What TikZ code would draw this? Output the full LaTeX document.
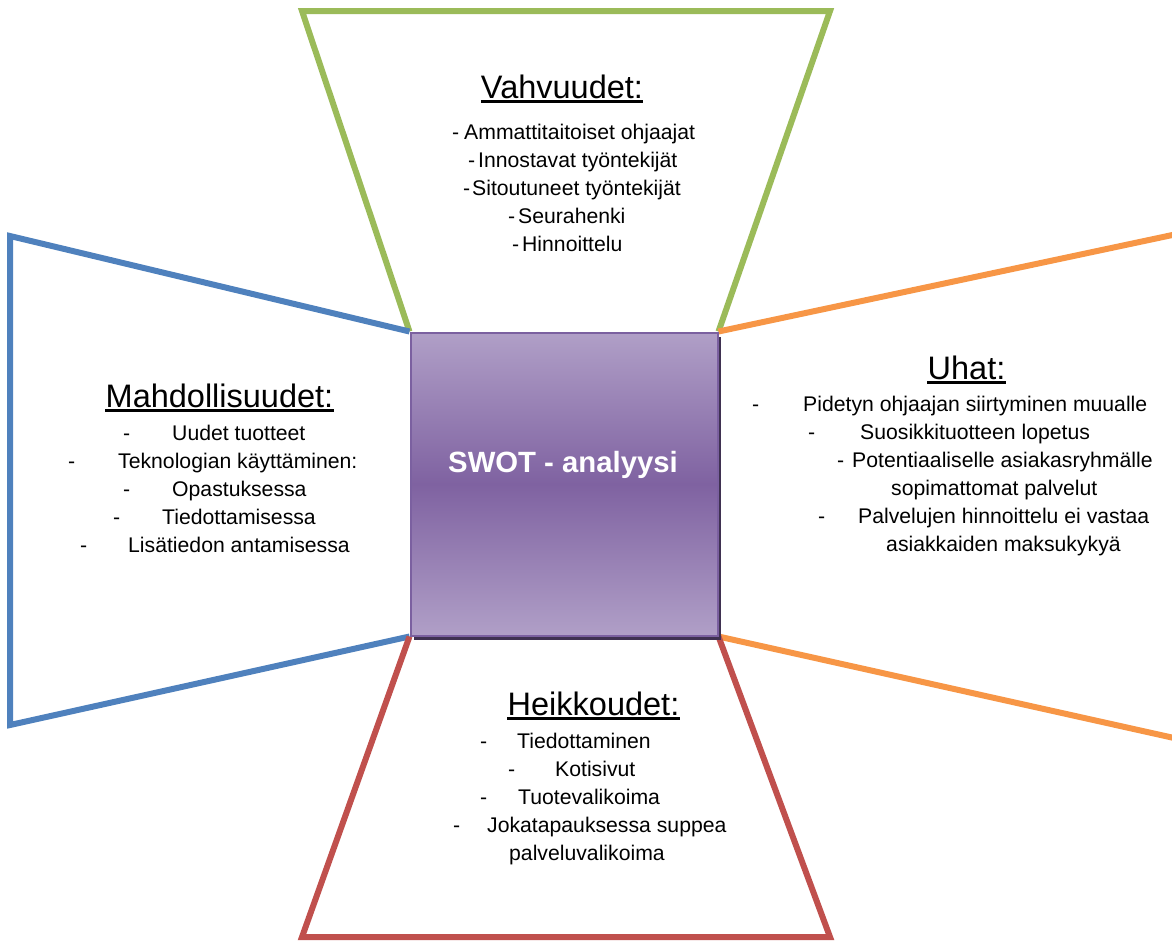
\documentclass[tikz,border=0pt]{standalone}
\usepackage{fontspec}
\setmainfont{Liberation Sans}
\usetikzlibrary{backgrounds,shadows}

\definecolor{vgreen}{HTML}{9BBB59}
\definecolor{mblue}{HTML}{4F81BD}
\definecolor{uorange}{HTML}{F79646}
\definecolor{hred}{HTML}{C0504D}
\definecolor{boxlight}{HTML}{B09FC7}
\definecolor{boxdark}{HTML}{7F62A1}
\definecolor{boxedge}{HTML}{7B60A0}
\definecolor{boxshadow}{HTML}{3F3151}

% light - dark - light band across the centre square
\pgfdeclareverticalshading{swotfill}{100bp}{color(0bp)=(boxlight); color(25bp)=(boxlight); color(50bp)=(boxdark); color(75bp)=(boxlight); color(100bp)=(boxlight)}

% a list entry: a dash, a fixed gap, then the text
\newcommand\dashitem[2]{\makebox[#1pt][l]{-}#2}

\tikzset{
  side/.style={line width=6pt, line join=miter},
  item/.style={anchor=base west, inner sep=0pt, font=\fontsize{21.2}{25}\selectfont},
  heading/.style={anchor=base, inner sep=0pt, font=\fontsize{32.5}{38}\selectfont},
  uline/.style={line width=2.3pt},
  swotbox/.style={minimum width=307pt, minimum height=303pt, inner sep=0pt,
    shading=swotfill, draw=boxedge, line width=2pt,
    general shadow={fill=boxshadow, shadow xshift=3pt, shadow yshift=-4pt}},
  swotlabel/.style={anchor=base, inner sep=0pt, text=white, font=\fontsize{29.3}{34}\selectfont\bfseries},
}

\begin{document}
\begin{tikzpicture}[x=1pt, y=-1pt]
\useasboundingbox (0,0) rectangle (1172,940);
\clip (0,0) rectangle (1172,940);

% centre square
\node[swotbox] (swot) at (564,484) {};
\node[swotlabel] (swotlbl) at (563,472) {SWOT - analyysi};

% outer corners of the four frames
\coordinate (gL) at (302,11);
\coordinate (gR) at (830,11);
\coordinate (bT) at (10,236);
\coordinate (bB) at (10,725);
\coordinate (oT) at (1210,227);
\coordinate (oB) at (1210,746);
\coordinate (rL) at (302,937);
\coordinate (rR) at (830,937);

\begin{scope}[on background layer]
  \draw[side, vgreen] (swot.north west) -- (gL) -- (gR) -- (swot.north east);
  \draw[side, mblue] (swot.north west) -- (bT) -- (bB) -- (swot.south west);
  \draw[side, uorange] (swot.north east) -- (oT) -- (oB) -- (swot.south east);
  \draw[side, hred] (swot.south west) -- (rL) -- (rR) -- (swot.south east);
\end{scope}

% Vahvuudet
\node[heading] (vh) at (562,98) {Vahvuudet:};
\draw[uline] ([yshift=-3.5pt]vh.base west) -- ([yshift=-3.5pt]vh.base east);
\node[item] (v1) at (452,139) {\dashitem{12}{Ammattitaitoiset ohjaajat}};
\node[item] (v2) at (468,167) {\dashitem{10}{Innostavat työntekijät}};
\node[item] (v3) at (463,195) {\dashitem{9}{Sitoutuneet työntekijät}};
\node[item] (v4) at (508,223) {\dashitem{10}{Seurahenki}};
\node[item] (v5) at (512,251) {\dashitem{10}{Hinnoittelu}};

% Mahdollisuudet
\node[heading] (mh) at (219.5,407) {Mahdollisuudet:};
\draw[uline] ([yshift=-3.5pt]mh.base west) -- ([yshift=-3.5pt]mh.base east);
\node[item] (m1) at (123,440) {\dashitem{49}{Uudet tuotteet}};
\node[item] (m2) at (68,468) {\dashitem{50}{Teknologian käyttäminen:}};
\node[item] (m3) at (123,496) {\dashitem{49}{Opastuksessa}};
\node[item] (m4) at (113,524) {\dashitem{49}{Tiedottamisessa}};
\node[item] (m5) at (80,552) {\dashitem{48}{Lisätiedon antamisessa}};

% Uhat
\node[heading] (uh) at (966.5,379) {Uhat:};
\draw[uline] ([yshift=-3.5pt]uh.base west) -- ([yshift=-3.5pt]uh.base east);
\node[item] (u1) at (752,411) {\dashitem{51}{Pidetyn ohjaajan siirtyminen muualle}};
\node[item] (u2) at (808,439) {\dashitem{52}{Suosikkituotteen lopetus}};
\node[item] (u3) at (837,467) {\dashitem{15}{Potentiaaliselle asiakasryhmälle}};
\node[item] (u4) at (891,495) {sopimattomat palvelut};
\node[item] (u5) at (818,523) {\dashitem{40}{Palvelujen hinnoittelu ei vastaa}};
\node[item] (u6) at (886,551) {asiakkaiden maksukykyä};

% Heikkoudet
\node[heading] (hh) at (593.5,715) {Heikkoudet:};
\draw[uline] ([yshift=-3.5pt]hh.base west) -- ([yshift=-3.5pt]hh.base east);
\node[item] (h1) at (480,748) {\dashitem{37}{Tiedottaminen}};
\node[item] (h2) at (508,776) {\dashitem{47}{Kotisivut}};
\node[item] (h3) at (480,804) {\dashitem{38}{Tuotevalikoima}};
\node[item] (h4) at (453,832) {\dashitem{34}{Jokatapauksessa suppea}};
\node[item] (h5) at (509,860) {palveluvalikoima};
\end{tikzpicture}
\end{document}
